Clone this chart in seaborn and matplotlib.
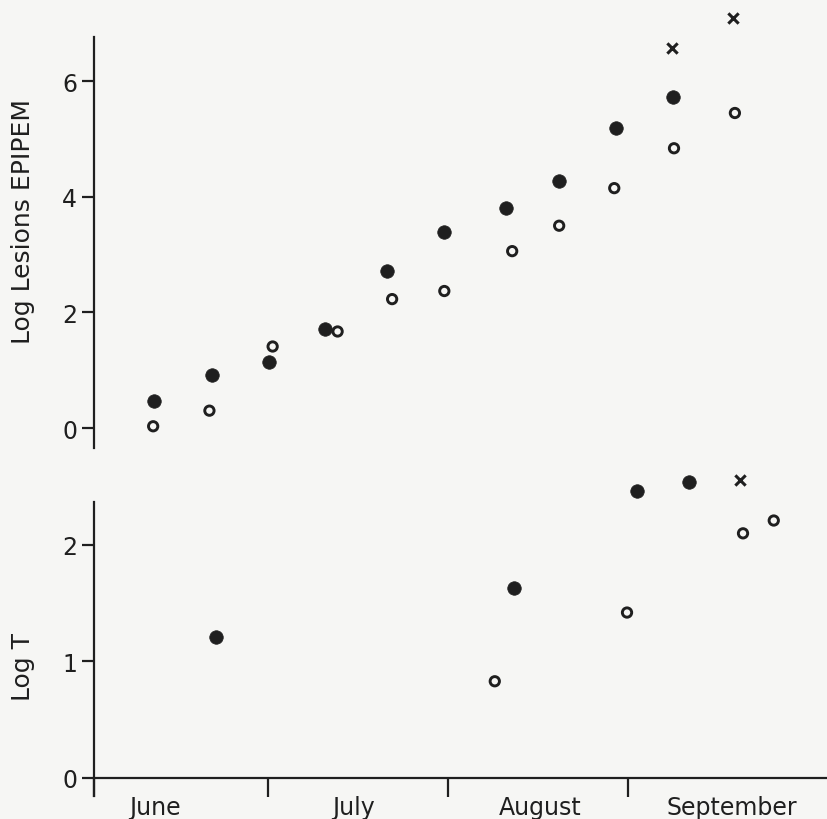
import matplotlib
matplotlib.use("Agg")
import matplotlib.pyplot as plt
import seaborn as sns
import pandas as pd

# ---- data (day counted from 1 June) ----
lesions_filled_day = [10.3, 20.3, 30.1, 39.8, 50.6, 60.4, 71.0, 80.2, 90.0, 99.8]
lesions_filled_val = [0.47, 0.92, 1.15, 1.71, 2.72, 3.39, 3.80, 4.27, 5.19, 5.73]
lesions_open_day = [10.2, 19.9, 30.8, 42.0, 51.4, 60.4, 72.1, 80.2, 89.7, 100.0, 110.5]
lesions_open_val = [0.03, 0.30, 1.41, 1.67, 2.23, 2.37, 3.06, 3.50, 4.15, 4.84, 5.45]
lesions_x_day = [99.7, 110.2]
lesions_x_val = [6.57, 7.09]

t_filled_day = [21.0, 72.4, 93.6, 102.6]
t_filled_val = [1.21, 1.63, 2.46, 2.54]
t_open_day = [69.1, 91.9, 111.9, 117.2]
t_open_val = [0.83, 1.42, 2.10, 2.21]
t_x_day = [111.4]
t_x_val = [2.56]

month_starts = [0, 30, 61, 92]
month_names = ["June", "July", "August", "September"]
month_label_pos = [10.5, 44.8, 76.9, 110.0]

top_yticks = [0, 2, 4, 6]
bottom_yticks = [0, 1, 2]

INK = "#1f1f1f"
BG = "#f6f6f4"

sns.set_theme(style="white")
plt.rcParams["font.family"] = ["DejaVu Sans"]

W, H = 828, 820
fig = plt.figure(figsize=(W / 100, H / 100), dpi=100, facecolor=BG)

x_left_px, px_per_day = 94, 5.8
xlim = (0, (W - x_left_px) / px_per_day)

ax_top = fig.add_axes([x_left_px / W, 1 - 449 / H, 1 - x_left_px / W, (449 - 38) / H])
ax_bot = fig.add_axes([x_left_px / W, 1 - 797 / H, 1 - x_left_px / W, (797 - 503) / H])

def scat(ax, xs, ys, kind):
    df = pd.DataFrame({"day": xs, "val": ys})
    if kind == "filled":
        sns.scatterplot(data=df, x="day", y="val", ax=ax, marker="o", s=95,
                        color=INK, edgecolor=INK, linewidth=0.5, clip_on=False, zorder=3)
    elif kind == "open":
        sns.scatterplot(data=df, x="day", y="val", ax=ax, marker="o", s=45,
                        facecolor="none", edgecolor=INK, linewidth=2.1, clip_on=False, zorder=3)
    else:
        sns.scatterplot(data=df, x="day", y="val", ax=ax, marker="x", s=55,
                        color=INK, linewidth=2.2, clip_on=False, zorder=3)

scat(ax_top, lesions_filled_day, lesions_filled_val, "filled")
scat(ax_top, lesions_open_day, lesions_open_val, "open")
scat(ax_top, lesions_x_day, lesions_x_val, "x")
scat(ax_bot, t_filled_day, t_filled_val, "filled")
scat(ax_bot, t_open_day, t_open_val, "open")
scat(ax_bot, t_x_day, t_x_val, "x")

for ax in (ax_top, ax_bot):
    ax.set_facecolor("none")
    ax.set_xlim(*xlim)
    ax.set_xlabel("")
    ax.set_ylabel("")
    for s in ("top", "right"):
        ax.spines[s].set_visible(False)
    ax.spines["left"].set_color(INK)
    ax.spines["left"].set_linewidth(1.6)
    ax.tick_params(axis="y", direction="out", length=9, width=1.6, color=INK,
                   labelsize=17, labelcolor=INK, pad=3, left=True)

# top panel
ax_top.set_ylim(-0.346, 6.765)
ax_top.set_yticks(top_yticks)
ax_top.spines["bottom"].set_visible(False)
ax_top.set_xticks([])

# bottom panel
ax_bot.set_ylim(-0.155, 2.369)
ax_bot.set_yticks(bottom_yticks)
ax_bot.spines["bottom"].set_position(("data", 0))
ax_bot.spines["bottom"].set_color(INK)
ax_bot.spines["bottom"].set_linewidth(1.6)
ax_bot.set_xticks(month_starts)
ax_bot.set_xticklabels([""] * len(month_starts))
ax_bot.tick_params(axis="x", which="major", direction="out", length=14, width=1.6,
                   color=INK, bottom=True)
ax_bot.set_xticks(month_label_pos, minor=True)
ax_bot.set_xticklabels(month_names, minor=True)
ax_bot.tick_params(axis="x", which="minor", length=0, labelsize=17,
                   labelcolor=INK, pad=12, bottom=True)

fig.text(23 / W, 1 - 222 / H, "Log Lesions EPIPEM", rotation=90, ha="center",
         va="center", fontsize=18, color=INK)
fig.text(23 / W, 1 - 667 / H, "Log T", rotation=90, ha="center", va="center",
         fontsize=18, color=INK)

fig.savefig("out.png", dpi=100, facecolor=BG)
